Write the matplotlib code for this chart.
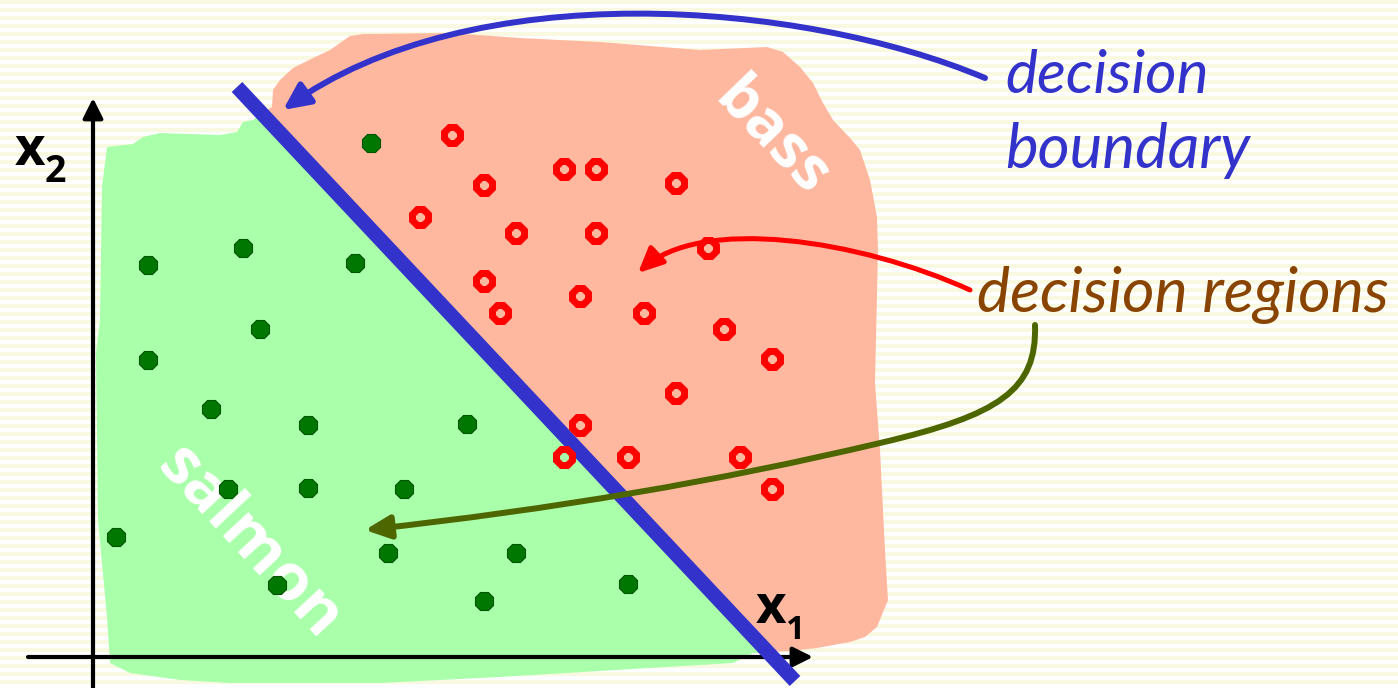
import numpy as np
import matplotlib
matplotlib.use("Agg")
import matplotlib.pyplot as plt
from matplotlib.patches import Polygon, FancyArrowPatch
from matplotlib.path import Path
from matplotlib.colors import ListedColormap

# ---------------- data (pixel-space drawing coordinates) ----------------
salmon_x = [272, 273, 280, 293, 313, 330, 340, 350, 363, 450, 520, 600, 700, 767, 783, 800, 813,
            823, 833, 850, 860, 870, 877, 878, 875, 880, 885, 888, 877, 865, 850, 817, 790, 768]
salmon_y = [107, 90, 80, 68, 58, 50, 43, 36, 34, 33, 38, 42, 50, 47, 52, 67, 83,
            103, 120, 138, 150, 180, 217, 250, 383, 450, 550, 600, 627, 637, 642, 648, 651, 652]

green_x = [262, 253, 243, 237, 220, 160, 143, 133, 107, 102, 100, 96, 98, 107, 110, 130, 180,
           230, 380, 500, 733, 753, 769]
green_y = [113, 120, 122, 132, 135, 133, 137, 144, 147, 187, 320, 353, 520, 617, 663, 673, 680,
           683, 683, 677, 663, 653, 653]

boundary_x = [237, 795]
boundary_y = [87, 681]

salmon_pts_x = [371, 148, 243, 355, 260, 148, 211, 308, 467, 228, 308, 404, 116, 388, 516, 277, 484, 628]
salmon_pts_y = [143, 265, 248, 263, 329, 360, 409, 425, 424, 489, 488, 489, 537, 553, 553, 585, 601, 584]

bass_pts_x = [452, 564, 596, 676, 484, 420, 516, 596, 708, 484, 580, 500, 644, 724, 772, 676, 580,
              564, 628, 740, 772]
bass_pts_y = [135, 169, 169, 183, 185, 217, 233, 233, 248, 281, 296, 313, 313, 329, 359, 393, 425,
              457, 457, 457, 489]

# ---------------- style ----------------
BG_CREAM = "#f8f9e0"
SALMON = "#ffb8a0"
LIGHTGREEN = "#aaffaa"
BLUE = "#3333cc"
RED = "#ff0000"
OLIVE = "#4d6600"
BROWN = "#884400"
DKGREEN = "#007700"

W, H = 1398, 688
fig = plt.figure(figsize=(W / 100, H / 100), dpi=100)
ax = fig.add_axes([0, 0, 1, 1])
ax.set_xlim(0, W)
ax.set_ylim(H, 0)
ax.axis("off")

# striped background
rows = np.arange(H)
stripe = ((rows % 8) < 4).astype(float)[:, None]
ax.imshow(stripe, cmap=ListedColormap(["white", BG_CREAM]), extent=[0, W, H, 0],
          aspect="auto", interpolation="nearest", zorder=0)

# regions
sal_poly = list(zip(salmon_x, salmon_y)) + [(262, 113)]
ax.add_patch(Polygon(sal_poly, closed=True, facecolor=SALMON, edgecolor="none", zorder=1))
ax.add_patch(Polygon(list(zip(green_x, green_y)), closed=True, facecolor=LIGHTGREEN,
                     edgecolor="none", zorder=1))

# region labels
ax.text(249, 543, "salmon", color="white", fontsize=47, family="Open Sans", weight="bold",
        rotation=-47, rotation_mode="anchor", ha="center", va="center", zorder=2)
ax.text(771, 138, "bass", color="white", fontsize=44, family="Open Sans", weight="bold",
        rotation=-46, rotation_mode="anchor", ha="center", va="center", zorder=2)

# axes
ax.add_patch(FancyArrowPatch((93, 700), (93, 98), arrowstyle="-|>,head_length=0.6,head_width=0.3",
                             mutation_scale=20, lw=3, color="black", shrinkA=0, shrinkB=0, zorder=3))
ax.add_patch(FancyArrowPatch((28, 657), (813, 657), arrowstyle="-|>,head_length=0.6,head_width=0.3",
                             mutation_scale=20, lw=3, color="black", shrinkA=0, shrinkB=0, zorder=3))

# points
ax.plot(salmon_pts_x, salmon_pts_y, linestyle="none", marker="8", markersize=14,
        markerfacecolor=DKGREEN, markeredgecolor="#005500", markeredgewidth=0.8, zorder=4)

# decision boundary
ax.plot(boundary_x, boundary_y, color=BLUE, lw=10.5, solid_capstyle="butt", zorder=5)

ax.plot(bass_pts_x, bass_pts_y, linestyle="none", marker="8", markersize=13,
        markerfacecolor="none", markeredgecolor=RED, markeredgewidth=5.0, zorder=6)

# axis labels
ax.text(15, 165, "x", fontsize=38, family="Open Sans", weight="bold", color="black", va="baseline")
ax.text(45, 182, "2", fontsize=27, family="Open Sans", weight="bold", color="black", va="baseline")
ax.text(756, 623, "x", fontsize=38, family="Open Sans", weight="bold", color="black", va="baseline", zorder=7)
ax.text(786, 639, "1", fontsize=24, family="Open Sans", weight="bold", color="black", va="baseline", zorder=7)

# annotation arrows
blue_path = Path([(985, 78), (800, 0), (470, -25), (283, 110)],
                 [Path.MOVETO, Path.CURVE4, Path.CURVE4, Path.CURVE4])
ax.add_patch(FancyArrowPatch(path=blue_path, arrowstyle="-|>,head_length=0.8,head_width=0.38",
                             mutation_scale=20, lw=4.3, color=BLUE, zorder=7))
red_path = Path([(970, 290), (860, 240), (700, 215), (638, 273)],
                [Path.MOVETO, Path.CURVE4, Path.CURVE4, Path.CURVE4])
ax.add_patch(FancyArrowPatch(path=red_path, arrowstyle="-|>,head_length=0.75,head_width=0.35",
                             mutation_scale=20, lw=3.6, color=RED, zorder=7))
olive_path = Path([(1035, 325), (1037, 390), (1000, 415), (880, 443), (640, 500), (365, 530)],
                  [Path.MOVETO, Path.CURVE4, Path.CURVE4, Path.CURVE4, Path.CURVE3, Path.CURVE3])
ax.add_patch(FancyArrowPatch(path=olive_path, arrowstyle="-|>,head_length=0.75,head_width=0.35",
                             mutation_scale=20, lw=4.3, color=OLIVE, zorder=7))

# annotation texts
ax.text(1005, 93, "decision", fontsize=43.5, family="Lato", style="italic", color=BLUE, va="baseline")
ax.text(1005, 168, "boundary", fontsize=44.5, family="Lato", style="italic", color=BLUE, va="baseline")
ax.text(977, 312, "decision regions", fontsize=45, family="Lato", style="italic", color=BROWN, va="baseline")

fig.savefig("out.png", dpi=100)
